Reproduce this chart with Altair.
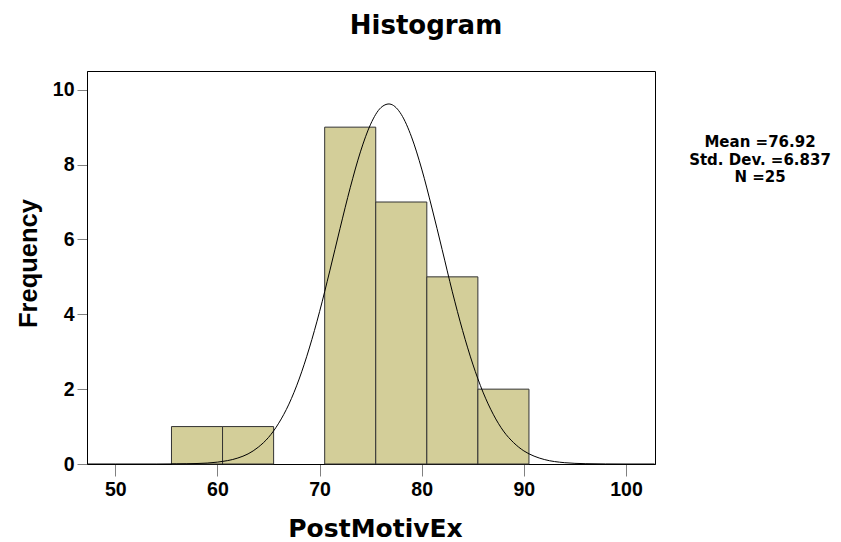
import altair as alt
import pandas as pd

# Histogram bins (width 5) and their frequencies
bin_starts = [55.5, 60.5, 70.5, 75.5, 80.5, 85.5]
bin_ends = [60.5, 65.5, 75.5, 80.5, 85.5, 90.5]
counts = [1, 1, 9, 7, 5, 2]

# Overlaid normal curve, sampled along the x axis
curve_x = [47.3, 50, 54, 56, 58, 60, 62, 63, 64, 65, 66, 67, 68, 69, 70, 71, 72, 73,
           74, 75, 76, 76.8, 77, 78, 79, 80, 81, 82, 83, 84, 85, 86, 87, 88, 89, 90,
           91, 92, 94, 96, 98, 100, 102.8]
curve_y = [0, 0, 0, 0.003, 0.013, 0.05, 0.16, 0.27, 0.45, 0.71, 1.09, 1.6, 2.27, 3.1,
           4.07, 5.16, 6.29, 7.38, 8.34, 9.08, 9.52, 9.62, 9.61, 9.34, 8.74, 7.88, 6.84,
           5.73, 4.6, 3.57, 2.67, 1.92, 1.33, 0.88, 0.57, 0.35, 0.21, 0.12, 0.035, 0.009,
           0.002, 0, 0]

# Summary statistics
mean_value = 76.92
sd_value = 6.837
n_value = 25

x_ticks = [50, 60, 70, 80, 90, 100]
y_ticks = [0, 2, 4, 6, 8, 10]

bars = pd.DataFrame({"start": bin_starts, "end": bin_ends, "count": counts})
curve = pd.DataFrame({"x": curve_x, "y": curve_y})
stats_text = f"Mean ={mean_value}\nStd. Dev. ={sd_value}\nN ={n_value}"

TICK_FONT = "Liberation Sans"
TITLE_FONT = "DejaVu Sans"

x_scale = alt.Scale(domain=[47.23, 102.84], nice=False, zero=False)
y_scale = alt.Scale(domain=[0, 10.5], nice=False)

x_axis = alt.Axis(
    values=x_ticks, title="PostMotivEx", grid=False,
    tickSize=12, tickColor="#808080", domainColor="black",
    labelFont=TICK_FONT, labelFontSize=19.5, labelFontWeight="bold", labelColor="black",
    labelPadding=4, labelFlush=False,
    titleFont=TITLE_FONT, titleFontSize=25, titleFontWeight="bold", titleColor="black",
    titleX=288, titleY=72, titleAlign="center", titleBaseline="alphabetic",
)
y_axis = alt.Axis(
    values=y_ticks, title="Frequency", grid=False,
    tickSize=10, tickColor="#808080", domainColor="black",
    labelFont=TICK_FONT, labelFontSize=19.5, labelFontWeight="bold", labelColor="black",
    labelPadding=3,
    titleFont=TICK_FONT, titleFontSize=25.5, titleFontWeight="bold", titleColor="black",
    titleX=-51, titleY=192, titleAngle=270, titleAlign="center",
    titleBaseline="alphabetic",
)

hist = alt.Chart(bars).mark_rect(
    fill="#D3CE99", stroke="#333333", strokeWidth=1
).encode(
    x=alt.X("start:Q", scale=x_scale, axis=x_axis),
    x2="end:Q",
    y=alt.Y("count:Q", scale=y_scale, axis=y_axis),
    y2=alt.datum(0),
)

line = alt.Chart(curve).mark_line(
    color="black", strokeWidth=1, interpolate="monotone"
).encode(
    x=alt.X("x:Q", scale=x_scale),
    y=alt.Y("y:Q", scale=y_scale),
)

title = alt.Chart(pd.DataFrame({"t": ["Histogram"]})).mark_text(
    font=TITLE_FONT, fontSize=26, fontWeight="bold", color="black",
    align="center", baseline="alphabetic",
).encode(text="t:N", x=alt.value(339), y=alt.value(-37.5))

stats = alt.Chart(pd.DataFrame({"t": [stats_text]})).mark_text(
    font=TITLE_FONT, fontSize=15, fontWeight="bold", color="black",
    align="center", baseline="top", lineBreak="\n", lineHeight=17.5,
).encode(text="t:N", x=alt.value(673), y=alt.value(64))

chart = alt.layer(hist, line, title, stats).properties(
    width=568, height=393,
    autosize=alt.AutoSizeParams(type="none"),
    padding={"left": 87, "top": 71, "right": 186, "bottom": 78},
    background="white",
).configure_view(stroke="black", strokeWidth=1)

chart.save("out.html", embed_options={"renderer": "svg", "actions": False})
